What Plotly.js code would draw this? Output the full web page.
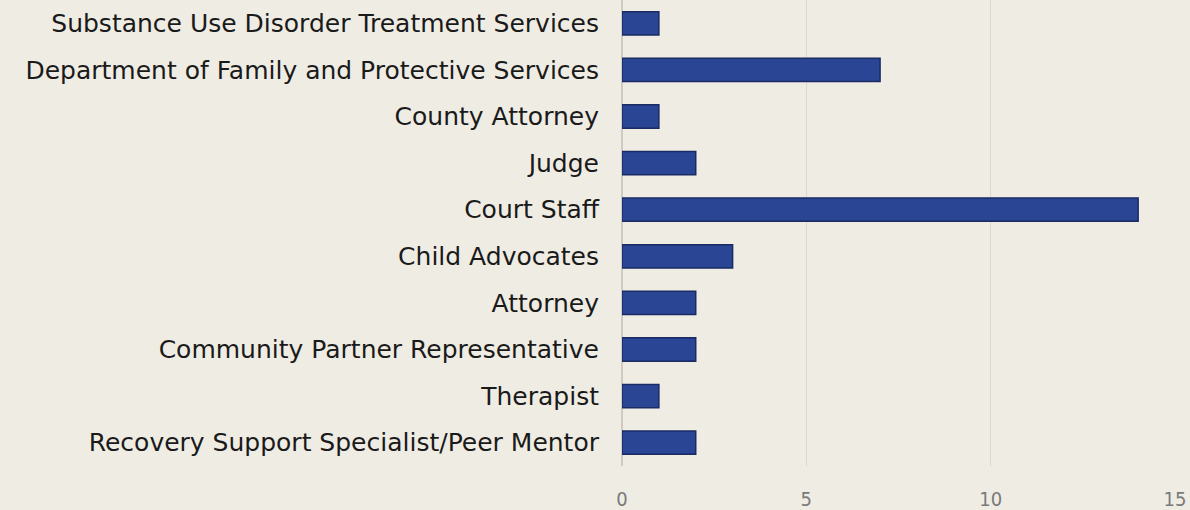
<!DOCTYPE html>
<html><head><meta charset="utf-8">
<script src="https://cdn.plot.ly/plotly-3.0.1.min.js"></script>
<style>html,body{margin:0;padding:0;background:#efece4;}</style>
</head><body>
<div id="chart" style="width:1190px;height:510px;"></div>
<script>
const categories = [
  "Recovery Support Specialist/Peer Mentor",
  "Therapist",
  "Community Partner Representative",
  "Attorney",
  "Child Advocates",
  "Court Staff",
  "Judge",
  "County Attorney",
  "Department of Family and Protective Services",
  "Substance Use Disorder Treatment Services"
];
const counts = [2, 1, 2, 2, 3, 14, 2, 1, 7, 1];
const tickValues = [0, 5, 10, 15];

Plotly.newPlot('chart', [{
  type: 'bar',
  orientation: 'h',
  y: categories,
  x: counts,
  marker: {color: '#2b4595', line: {color: '#1a2a63', width: 1.5}},
  hoverinfo: 'x+y'
}], {
  width: 1190, height: 510,
  paper_bgcolor: '#efece4', plot_bgcolor: '#efece4',
  margin: {l: 622, r: 15, t: 0, b: 44},
  bargap: 0.5,
  showlegend: false,
  xaxis: {
    range: [0, 15], tickvals: tickValues, ticktext: tickValues.map(String),
    showgrid: true, gridcolor: '#dcd8cf', gridwidth: 1,
    zeroline: true, zerolinecolor: '#cfcbc2', zerolinewidth: 2,
    showline: false, ticks: '', ticklabelstandoff: 19,
    tickfont: {family: '"DejaVu Sans Condensed", "Liberation Sans Narrow", sans-serif', size: 20, color: '#7a7a7a'}
  },
  yaxis: {
    categoryorder: 'array', categoryarray: categories,
    showgrid: false, zeroline: false, showline: false, ticks: '',
    ticklabelstandoff: 22,
    tickfont: {family: '"DejaVu Sans", "Noto Sans", sans-serif', size: 25, color: '#1a1a1a'}
  }
}, {displayModeBar: false, staticPlot: true});
</script>
</body></html>
